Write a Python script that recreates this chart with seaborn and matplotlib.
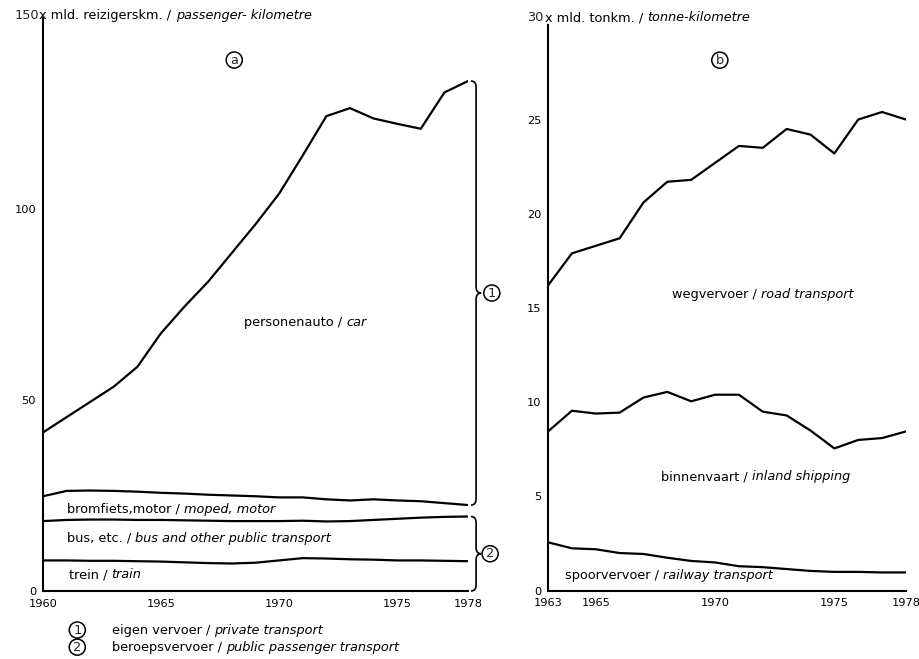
import matplotlib.pyplot as plt
import seaborn as sns
import numpy as np
from matplotlib.path import Path
from matplotlib.patches import PathPatch
from matplotlib.offsetbox import TextArea, HPacker, AnnotationBbox

# (a) reizigerskilometers, mld. per vervoerwijze
jaren_a = list(range(1960, 1979))
trein = [8.0, 8.0, 7.9, 7.9, 7.8, 7.7, 7.5, 7.3, 7.2, 7.4, 8.0, 8.6, 8.5, 8.3, 8.2, 8.0, 8.0, 7.9, 7.8]
bus = [10.3, 10.6, 10.8, 10.8, 10.8, 10.9, 11.0, 11.1, 11.1, 10.9, 10.3, 9.8, 9.7, 10.0, 10.4, 10.9, 11.2, 11.5, 11.7]
bromfiets = [6.5, 7.6, 7.6, 7.5, 7.4, 7.1, 7.0, 6.8, 6.7, 6.5, 6.2, 6.1, 5.8, 5.4, 5.4, 4.8, 4.3, 3.6, 3.0]
auto = [16.7, 19.3, 23.2, 27.3, 32.7, 41.8, 49.0, 55.8, 63.5, 71.2, 79.5, 89.5, 100.3, 102.7, 99.7, 98.6, 97.5, 107.5, 111.0]

# (b) tonkilometers, mld.
jaren_b = list(range(1963, 1979))
wegvervoer = [16.2, 17.9, 18.3, 18.7, 20.6, 21.7, 21.8, 22.7, 23.6, 23.5, 24.5, 24.2, 23.2, 25.0, 25.4, 25.0]
binnenvaart = [8.45, 9.55, 9.4, 9.45, 10.25, 10.55, 10.05, 10.4, 10.4, 9.5, 9.3, 8.5, 7.55, 8.0, 8.1, 8.45]
spoorvervoer = [2.57, 2.25, 2.2, 2.0, 1.95, 1.75, 1.58, 1.5, 1.3, 1.25, 1.15, 1.05, 1.0, 1.0, 0.97, 0.97]

xticks_a = [1960, 1965, 1970, 1975, 1978]
xticks_b = [1963, 1965, 1970, 1975, 1978]
yticks_a = [0, 50, 100, 150]
yticks_b = [0, 5, 10, 15, 20, 25, 30]

sns.set_theme(style="white")
plt.rcParams['font.family'] = ['DejaVu Sans']
FS = 9.3    # teksten in de grafiek
FT = 8.2    # aslabels

fig = plt.figure(figsize=(9.2, 6.59), dpi=100)
ax_a = fig.add_axes([0.0467, 0.1032, 0.462, 0.8695])
ax_b = fig.add_axes([0.5957, 0.1036, 0.389, 0.858])


def tekst(ax, xy, normaal, cursief, coords='data', align=(0, 0.5), offset=(0, 0), size=FS):
    """Tekst met een normaal en een cursief deel achter elkaar."""
    box = HPacker(children=[TextArea(normaal, textprops=dict(size=size, color='black')),
                            TextArea(cursief, textprops=dict(size=size, style='italic', color='black'))],
                  pad=0, sep=0, align='baseline')
    ab = AnnotationBbox(box, xy, xycoords=coords, box_alignment=align, frameon=False,
                        xybox=offset, boxcoords='offset points', annotation_clip=False)
    ax.add_artist(ab)


def rondje(ax, x, y, s, coords=None, size=FS):
    ax.text(x, y, s, ha='center', va='center', fontsize=size,
            transform=coords if coords is not None else ax.transData,
            bbox=dict(boxstyle='circle,pad=0.12', fc='white', ec='black', lw=1.1), clip_on=False)


def accolade(ax, y0, y1, x=1.019, w=0.012, h=1.5):
    ym = (y0 + y1) / 2
    verts = [(x - w, y1), (x, y1), (x, y1 - h), (x, ym + h), (x, ym), (x + w, ym),
             (x, ym), (x, ym - h), (x, y0 + h), (x, y0), (x - w, y0)]
    codes = [Path.MOVETO, Path.CURVE3, Path.CURVE3, Path.LINETO, Path.CURVE3, Path.CURVE3,
             Path.CURVE3, Path.CURVE3, Path.LINETO, Path.CURVE3, Path.CURVE3]
    ax.add_patch(PathPatch(Path(verts, codes), fc='none', ec='black', lw=1.2,
                           transform=ax.get_yaxis_transform(), clip_on=False))


def opmaak(ax, xlim, yticks, xticks, ylabels, kop_normaal, kop_cursief, kop_dy):
    ax.set_xlim(*xlim)
    ax.set_ylim(yticks[0], yticks[-1])
    ax.set_xticks(xticks)
    ax.set_xticklabels([str(t) for t in xticks])
    ax.set_yticks(yticks)
    ax.set_yticklabels([str(t) if t in ylabels else '' for t in yticks])
    for s in ['top', 'right']:
        ax.spines[s].set_visible(False)
    for s in ['left', 'bottom']:
        ax.spines[s].set_color('black')
        ax.spines[s].set_linewidth(1.5)
    ax.tick_params(axis='x', direction='inout', length=7, width=1.3, colors='black', labelsize=FT, pad=2)
    ax.tick_params(axis='y', direction='out', length=4, width=1.2, colors='black', labelsize=FT, pad=1)
    ax.set_xlabel('')
    ax.set_ylabel('')
    ax.grid(False)
    ax.yaxis.get_major_ticks()[-1].tick1line.set_visible(False)
    # kop: bovenste waarde + eenheid, iets boven de as
    ax.annotate(str(yticks[-1]), (0, yticks[-1]), xycoords=ax.get_yaxis_transform(),
                xytext=(-3, kop_dy), textcoords='offset points', ha='right', va='center',
                fontsize=FS, annotation_clip=False)
    tekst(ax, (0, yticks[-1]), kop_normaal, kop_cursief,
          coords=ax.get_yaxis_transform(), offset=(-2.5, kop_dy))


# --- (a) personenvervoer, gestapeld ---
lagen = np.cumsum([trein, bus, bromfiets, auto], axis=0)
for laag in lagen:
    sns.lineplot(x=jaren_a, y=laag, ax=ax_a, color='black', lw=1.6)
opmaak(ax_a, (1960, 1978), yticks_a, xticks_a, [0, 50, 100],
       'x mld. reizigerskm. / ', 'passenger- kilometre', 2)
rondje(ax_a, 1968.1, 139, 'a')
tekst(ax_a, (1968.5, 70.2), 'personenauto / ', 'car')
tekst(ax_a, (1961.0, 21.4), 'bromfiets,motor / ', 'moped, motor')
tekst(ax_a, (1961.0, 13.8), 'bus, etc. / ', 'bus and other public transport')
tekst(ax_a, (1961.1, 4.2), 'trein / ', 'train')
accolade(ax_a, lagen[2][-1], lagen[3][-1], h=1.6)
accolade(ax_a, 0, lagen[1][-1], h=1.6)
rondje(ax_a, 1.056, (lagen[2][-1] + lagen[3][-1]) / 2, '1', coords=ax_a.get_yaxis_transform())
rondje(ax_a, 1.052, lagen[1][-1] / 2, '2', coords=ax_a.get_yaxis_transform())

# --- (b) goederenvervoer ---
for reeks in [wegvervoer, binnenvaart, spoorvervoer]:
    sns.lineplot(x=jaren_b, y=reeks, ax=ax_b, color='black', lw=1.6)
opmaak(ax_b, (1963, 1978), yticks_b, xticks_b, [0, 5, 10, 15, 20, 25],
       'x mld. tonkm. / ', 'tonne-kilometre', 5.5)
rondje(ax_b, 1970.2, 28.15, 'b')
tekst(ax_b, (1968.2, 15.7), 'wegvervoer / ', 'road transport')
tekst(ax_b, (1967.75, 6.05), 'binnenvaart / ', 'inland shipping')
tekst(ax_b, (1963.7, 0.83), 'spoorvervoer / ', 'railway transport')

# --- verklaring onderaan ---
rondje(ax_a, 0.084, 0.044, '1', coords=fig.transFigure)
rondje(ax_a, 0.084, 0.018, '2', coords=fig.transFigure)
tekst(ax_a, (0.1217, 0.044), 'eigen vervoer / ', 'private transport', coords='figure fraction')
tekst(ax_a, (0.1217, 0.018), 'beroepsvervoer / ', 'public passenger transport', coords='figure fraction')

plt.savefig('out.png', dpi=100)
plt.close()
